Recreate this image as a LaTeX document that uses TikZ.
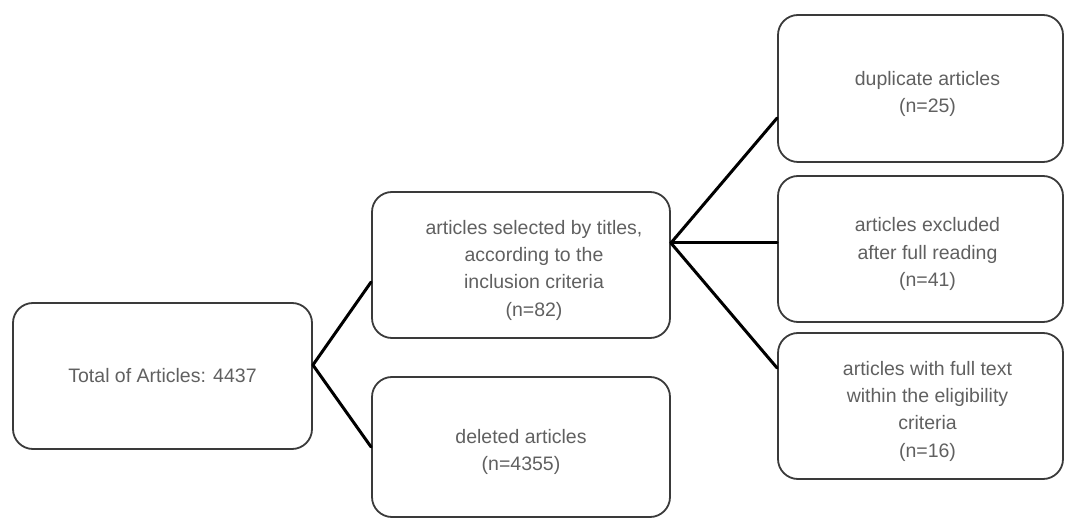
\documentclass[tikz,border=0pt]{standalone}
\usepackage{fontspec}
\setmainfont{Liberation Sans}
\usetikzlibrary{calc}
\definecolor{txtgray}{HTML}{606060}
\definecolor{boxline}{HTML}{3A3A3A}
\newcommand{\topstrut}{\rule{0pt}{24.5pt}}
\newcommand{\shiftR}[1]{\hspace*{#1}}
\begin{document}
\begin{tikzpicture}[x=1pt,y=-1pt,
  box/.style={draw=boxline, line width=1.8pt, rounded corners=20pt, inner sep=0pt,
    align=center, text=txtgray, font=\fontsize{19.5}{27.3}\selectfont},
  conn/.style={draw=black, line width=3pt, line cap=round, line join=round}]
\useasboundingbox (0,0) rectangle (1065,518);
\node[box, minimum width=299pt, minimum height=146pt] (b1) at (162.5,376) {Total of Articles: 4437};
\node[box, minimum width=298pt, minimum height=146pt] (b2) at (521,265)
  {\topstrut\shiftR{26pt}articles selected by titles,\\\shiftR{26pt}according to the\\\shiftR{26pt}inclusion criteria\\\shiftR{26pt}(n=82)};
\node[box, minimum width=298pt, minimum height=140pt] (b3) at (521,447)
  {\topstrut deleted articles\\(n=4355)};
\node[box, minimum width=285pt, minimum height=147pt] (b4) at (920.5,88.5)
  {\topstrut\shiftR{14pt}duplicate articles\\\shiftR{14pt}(n=25)};
\node[box, minimum width=285pt, minimum height=146pt] (b5) at (920.5,249)
  {\topstrut\shiftR{14pt}articles excluded\\\shiftR{14pt}after full reading\\\shiftR{14pt}(n=41)};
\node[box, minimum width=285pt, minimum height=146pt] (b6) at (920.5,406)
  {\topstrut\shiftR{14pt}articles with full text\\\shiftR{14pt}within the eligibility\\\shiftR{14pt}criteria\\\shiftR{14pt}(n=16)};
\coordinate (j1) at ($(b1.east)+(0,-11)$);
\coordinate (e2) at ($(b2.west)+(0,17)$);
\coordinate (j2) at ($(b2.east)+(0,-22)$);
\coordinate (e4) at ($(b4.west)+(0,29.5)$);
\coordinate (e5) at ($(b5.west)+(0,-6)$);
\coordinate (e6) at ($(b6.west)+(0,-38)$);
\draw[conn] (e2) -- (j1) -- (b3.west);
\draw[conn] (e4) -- (j2) -- (e6);
\draw[conn] (j2) -- (e5);
\end{tikzpicture}
\end{document}
